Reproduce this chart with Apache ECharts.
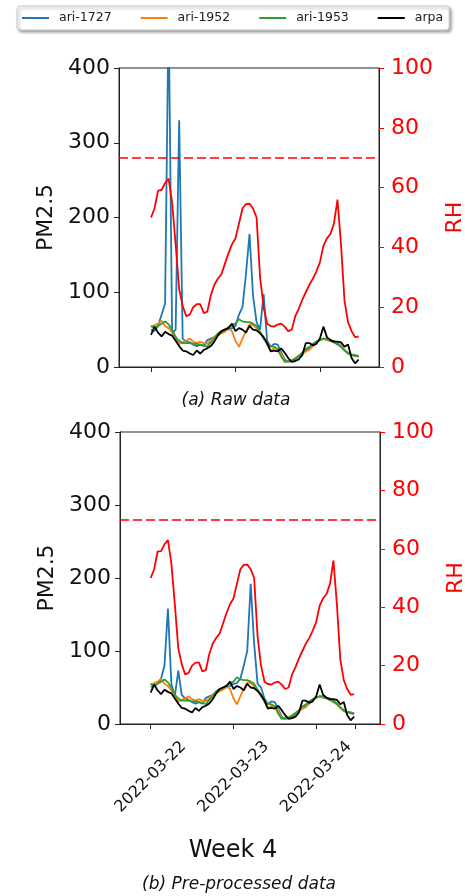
<!DOCTYPE html>
<html>
<head>
<meta charset="utf-8">
<script src="https://cdn.jsdelivr.net/npm/echarts@6/dist/echarts.min.js"></script>
<style>
  html, body { margin: 0; padding: 0; background: #fff; }
  #chart { width: 465px; height: 896px; }
</style>
</head>
<body>
<div id="chart"></div>
<script>
// Hourly samples starting 2022-03-22 00:00 (hour offsets)
const hours = [0,1,2,3,4,5,6,7,8,9,10,11,12,13,14,15,16,17,18,19,20,21,22,23,24,25,26,27,28,29,
               30,31,32,33,34,35,36,37,38,39,40,41,42,43,44,45,46,47,48,49,50,51,52,53,54,55,56,57,58,59];

// Day ticks (hour offsets) and their labels
const dayTicks = [0, 24, 48];
const dayLabels = ['2022-03-22', '2022-03-23', '2022-03-24'];

// PM2.5 – raw sensor data
const ari1727Raw = [50,48,55,70,85,480,45,50,330,38,34,33,30,28,30,28,36,38,40,44,48,50,50,52,55,70,80,125,178,95,
                    60,50,98,35,27,31,30,20,10,7,8,10,14,17,22,26,30,34,36,38,36,35,33,30,27,22,19,17,16,15];
// PM2.5 – ari-1727 after pre-processing
const ari1727Pre = [51,52,55,62,80,158,55,38,73,40,35,33,30,28,30,28,36,38,40,44,48,50,50,52,55,56,62,80,100,192,
                    110,55,50,35,27,31,30,20,10,7,8,10,14,17,22,26,30,34,36,38,36,35,33,30,27,22,19,17,16,15];
const ari1952 = [54,56,58,62,55,52,46,40,31,33,35,38,34,32,34,32,31,36,40,43,45,47,52,48,35,27,38,48,57,56,
                 52,47,40,30,22,25,24,18,8,7,9,12,15,18,21,23,28,33,36,38,36,36,35,32,28,22,18,16,15,14];
const ari1953 = [55,52,55,58,61,57,50,40,35,32,32,32,31,31,30,29,27,33,38,45,47,50,53,56,58,64,61,60,60,58,
                 55,47,38,32,28,27,24,14,7,8,9,11,15,19,24,27,31,34,36,38,38,36,33,32,28,23,18,16,15,14];
const arpa = [43,54,46,41,47,44,42,35,28,22,21,18,16,22,18,23,25,28,34,42,48,50,52,58,48,52,50,46,55,50,
              49,45,40,32,21,22,21,25,19,12,7,8,10,16,32,32,29,31,38,54,40,36,34,34,33,27,30,12,5,10];
// Relative humidity (%)
const rh = [50,53,59,59.2,61.5,63,55,41,26,20.5,17,17.5,20,21,21,18,18.5,24,27.5,29.5,31,34.5,38,41,43,48,53,54.5,54.6,53,
            50,30,20,14.5,13.7,13.5,14.2,14.5,13.5,12,12.5,17,19.5,22.5,25,27.5,29.5,32,35,40.5,43,44.5,48,56,41,22,15,12,10,10.2];
const rhThreshold = 70;

const FONT = 'DejaVu Sans';
const COLORS = { 'ari-1727': '#1f77b4', 'ari-1952': '#ff7f0e', 'ari-1953': '#2ca02c', 'arpa': '#000000' };

const pairs = (vals) => hours.map((h, i) => [h, vals[i]]);

function pmSeries(name, vals, gi) {
  return {
    name: name, type: 'line', xAxisIndex: gi, yAxisIndex: gi * 2,
    data: pairs(vals), symbol: 'none', clip: true,
    lineStyle: { width: 1.8, color: COLORS[name] }, itemStyle: { color: COLORS[name] },
    z: 2
  };
}
function rhSeries(gi) {
  return {
    name: 'RH', type: 'line', xAxisIndex: gi, yAxisIndex: gi * 2 + 1,
    data: pairs(rh), symbol: 'none',
    lineStyle: { width: 1.8, color: '#ff0000' }, itemStyle: { color: '#ff0000' },
    z: 3,
    markLine: {
      silent: true, symbol: 'none', label: { show: false },
      lineStyle: { color: '#ff0000', width: 1.7, type: [9, 4] },
      data: [{ yAxis: rhThreshold }]
    }
  };
}

function leftAxis(gi) {
  return {
    gridIndex: gi, type: 'value', position: 'left', min: 0, max: 400, interval: 100,
    name: 'PM2.5', nameLocation: 'middle', nameGap: 57, nameRotate: 90,
    nameTextStyle: { fontFamily: FONT, fontSize: 22, color: '#111' },
    axisLine: { show: true, onZero: false, lineStyle: { color: '#222', width: 1 } },
    axisTick: { show: true, length: 5, lineStyle: { color: '#222' } },
    axisLabel: { margin: 9, fontFamily: FONT, fontSize: 22, color: '#111' },
    splitLine: { show: false }
  };
}
function rightAxis(gi) {
  return {
    gridIndex: gi, type: 'value', position: 'right', min: 0, max: 100, interval: 20,
    name: 'RH', nameLocation: 'middle', nameGap: 64, nameRotate: 90,
    nameTextStyle: { fontFamily: FONT, fontSize: 22, color: '#ff0000' },
    axisLine: { show: true, onZero: false, lineStyle: { color: '#222', width: 1 } },
    axisTick: { show: true, length: 5, lineStyle: { color: '#ff0000' } },
    axisLabel: { margin: 12, fontFamily: FONT, fontSize: 22, color: '#ff0000' },
    splitLine: { show: false }
  };
}

const option = {
  animation: false,
  backgroundColor: '#ffffff',
  legend: {
    left: 17, top: 6,
    data: ['ari-1727', 'ari-1952', 'ari-1953', 'arpa'],
    icon: 'rect',
    itemWidth: 27, itemHeight: 2, itemGap: 29,
    padding: [5, 6, 5, 5],
    borderColor: '#c8c8c8', borderWidth: 1, borderRadius: 3,
    backgroundColor: '#fff',
    shadowColor: 'rgba(0,0,0,0.35)', shadowBlur: 3, shadowOffsetX: 2, shadowOffsetY: 2,
    textStyle: { fontFamily: FONT, fontSize: 12.5, color: '#222', padding: [0, 0, 0, 5], lineHeight: 14 }
  },
  grid: [
    { left: 119, top: 68, width: 260, height: 299, outerBoundsMode: 'none', containLabel: false,
      show: true, borderColor: '#222', borderWidth: 1, backgroundColor: 'transparent' },
    { left: 120, top: 432, width: 260, height: 292, outerBoundsMode: 'none', containLabel: false,
      show: true, borderColor: '#222', borderWidth: 1, backgroundColor: 'transparent' }
  ],
  xAxis: [
    {
      gridIndex: 0, type: 'value', min: -9.1, max: 64.8,
      axisLine: { show: true, onZero: false, lineStyle: { color: '#222' } },
      axisTick: { show: true, length: 5, customValues: dayTicks, lineStyle: { color: '#222' } },
      axisLabel: { show: false },
      splitLine: { show: false }
    },
    {
      gridIndex: 1, type: 'value', min: -8.9, max: 66.5,
      axisLine: { show: true, onZero: false, lineStyle: { color: '#222' } },
      axisTick: { show: true, length: 5, customValues: dayTicks.concat([59.3]), lineStyle: { color: '#222' } },
      axisLabel: {
        show: true, customValues: dayTicks, rotate: 45, margin: 53,
        align: 'center', verticalAlign: 'middle',
        fontFamily: FONT, fontSize: 16, color: '#111',
        formatter: (v) => dayLabels[dayTicks.indexOf(v)] || ''
      },
      splitLine: { show: false }
    }
  ],
  yAxis: [leftAxis(0), rightAxis(0), leftAxis(1), rightAxis(1)],
  series: [
    pmSeries('ari-1727', ari1727Raw, 0),
    pmSeries('ari-1952', ari1952, 0),
    pmSeries('ari-1953', ari1953, 0),
    pmSeries('arpa', arpa, 0),
    rhSeries(0),
    pmSeries('ari-1727', ari1727Pre, 1),
    pmSeries('ari-1952', ari1952, 1),
    pmSeries('ari-1953', ari1953, 1),
    pmSeries('arpa', arpa, 1),
    rhSeries(1)
  ],
  graphic: [
    { type: 'text', x: 236, y: 401, style: { text: '(a) Raw data', textAlign: 'center', textVerticalAlign: 'middle',
      fontFamily: FONT, fontStyle: 'italic', fontSize: 17, fill: '#111' } },
    { type: 'text', x: 233, y: 851, style: { text: 'Week 4', textAlign: 'center', textVerticalAlign: 'middle',
      fontFamily: FONT, fontSize: 24, fill: '#111' } },
    { type: 'text', x: 239, y: 885, style: { text: '(b) Pre-processed data', textAlign: 'center', textVerticalAlign: 'middle',
      fontFamily: FONT, fontStyle: 'italic', fontSize: 17, fill: '#111' } }
  ]
};

const chart = echarts.init(document.getElementById('chart'), null, { renderer: 'canvas' });
chart.setOption(option);
</script>
</body>
</html>
